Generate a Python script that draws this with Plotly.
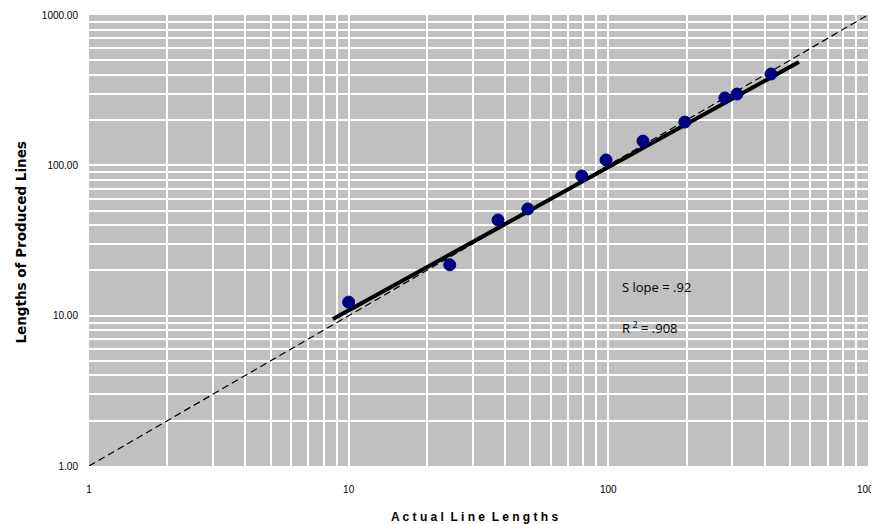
import plotly.graph_objects as go

# Data
actual = [10, 24.5, 37.6, 49, 79, 98, 136, 197, 281, 313, 423]
produced = [12.3, 21.8, 43.3, 51.3, 85, 108.6, 145, 194, 281, 298, 405]

fit_x = [8.7, 542]
fit_y = [9.5, 487]

ref_x = [1, 1000]
ref_y = [1, 1000]

grid_vals = [m * 10 ** e for e in range(0, 3) for m in range(1, 10)] + [1000]
x_tick_vals = [1, 10, 100, 1000]
x_tick_text = ["1", "10", "100", "1000"]
y_tick_vals = [1, 10, 100, 1000]
y_tick_text = ["1.00", "10.00", "100.00", "1000.00"]

fig = go.Figure()

fig.add_trace(go.Scatter(
    x=ref_x, y=ref_y, mode="lines",
    line=dict(color="black", width=1.2, dash="7px,4px"),
    showlegend=False, hoverinfo="skip", cliponaxis=False))

fig.add_trace(go.Scatter(
    x=fit_x, y=fit_y, mode="lines",
    line=dict(color="black", width=4),
    showlegend=False, hoverinfo="skip"))

fig.add_trace(go.Scatter(
    x=actual, y=produced, mode="markers",
    marker=dict(color="#000080", size=12, symbol="circle",
                line=dict(color="#000080", width=1)),
    showlegend=False))

narrow = "Liberation Sans Narrow, Arial Narrow, Liberation Sans, Arial"
tickfont = dict(family=narrow, size=10, color="black")

fig.update_xaxes(
    type="log", range=[0, 3], automargin=False,
    tickmode="array", tickvals=x_tick_vals, ticktext=x_tick_text,
    tickfont=tickfont, ticks="", ticklen=0, ticklabelstandoff=16,
    ticklabeloverflow="allow",
    showgrid=True, gridcolor="white", gridwidth=2,
    minor=dict(tickmode="array", tickvals=grid_vals, showgrid=True,
               gridcolor="white", gridwidth=2, ticks=""),
    zeroline=False, showline=False,
)
fig.update_yaxes(
    type="log", range=[0, 3], automargin=False,
    tickmode="array", tickvals=y_tick_vals, ticktext=y_tick_text,
    tickfont=tickfont, ticks="", ticklen=0, ticklabelstandoff=10,
    ticklabeloverflow="allow",
    showgrid=True, gridcolor="white", gridwidth=2,
    minor=dict(tickmode="array", tickvals=grid_vals, showgrid=True,
               gridcolor="white", gridwidth=2, ticks=""),
    zeroline=False, showline=False,
)

# Axis titles
fig.add_annotation(x=0.5, y=0, xref="paper", yref="paper", yshift=-51, xshift=-4,
                   text="A c t u a l  L i n e  L e n g t h s", showarrow=False,
                   xanchor="center", yanchor="middle",
                   font=dict(family=narrow, size=12, color="black", weight="bold"))
fig.add_annotation(x=0, y=0.5, xref="paper", yref="paper", xshift=-69, yshift=-2,
                   text="Lengths of Produced Lines", showarrow=False, textangle=-90,
                   xanchor="center", yanchor="middle",
                   font=dict(family="DejaVu Sans, Liberation Sans", size=13.5, color="black", weight="bold"))

annot_font = dict(family="Open Sans, Liberation Sans", size=13, color="black")
fig.add_annotation(x=2.045, y=1.191, xref="x", yref="y", text="S lope = .92",
                   showarrow=False, xanchor="left", yanchor="middle", font=annot_font)
fig.add_annotation(x=2.045, y=0.918, xref="x", yref="y", text="R<sup> 2</sup> = .908",
                   showarrow=False, xanchor="left", yanchor="middle", font=annot_font)

# The page places the figure 8px in from the top-left corner
fig.update_layout(
    width=871, height=516,
    margin=dict(l=81, r=11, t=7, b=58),
    plot_bgcolor="#C0C0C0", paper_bgcolor="white",
)

fig.write_html("out.html")
